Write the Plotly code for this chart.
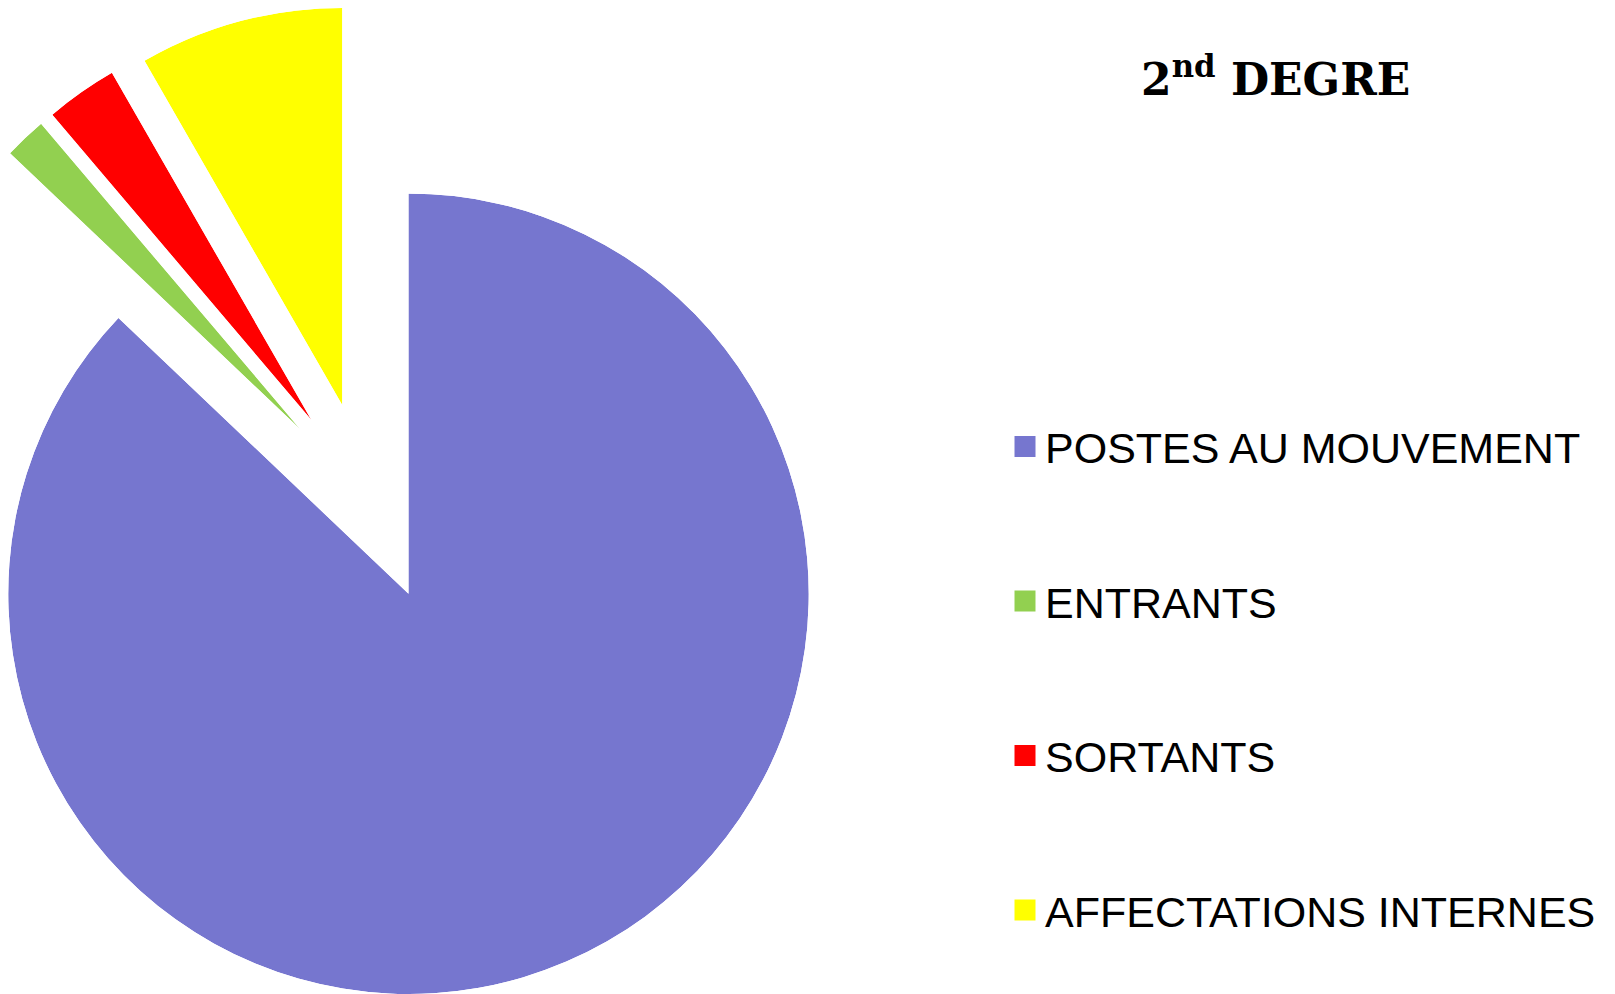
import math
import plotly.graph_objects as go

# ---------------- data ----------------
labels = ["POSTES AU MOUVEMENT", "ENTRANTS", "SORTANTS", "AFFECTATIONS INTERNES"]
values = [87.1, 1.7, 2.9, 8.3]
colors = ["#7676CF", "#92D050", "#FF0000", "#FFFF00"]
title_text = "<b>2<sup>nd</sup> DEGRE</b>"

# ---------------- layout constants ----------------
OFF = 8                          # page body margin (px)
W, H = 1615 - OFF, 994 - OFF     # figure size so the page is exactly the window
R = 400.5                        # pie radius (px)
CX, CY = 369.0 - OFF, 502.0 - OFF  # pie centre (px, figure coords)
PULL = 0.25                      # explosion of every slice (fraction of radius)
LEG_X = 997                      # legend left (px, figure coords)
LEG_Y = [438.5, 593, 747.5, 902]   # legend item centres (px, figure coords)
LEG_FONT = 43

fig = go.Figure()
total = float(sum(values))
start = 0.0
for i, (lab, val, col) in enumerate(zip(labels, values, colors)):
    span = 360.0 * val / total
    a0, a1 = start, start + span
    start = a1
    mid = (a0 + a1) / 2.0
    # apex of exploded slice (px)
    px = CX + PULL * R * math.sin(math.radians(mid))
    py = CY - PULL * R * math.cos(math.radians(mid))
    # sector in math degrees (ccw from +x)
    s0 = (90.0 - a1) % 360.0
    s1 = s0 + span
    xs = [0.0, math.cos(math.radians(s0)), math.cos(math.radians(s1))]
    ys = [0.0, math.sin(math.radians(s0)), math.sin(math.radians(s1))]
    for t in range(0, 811, 90):
        if s0 <= t <= s1:
            xs.append(round(math.cos(math.radians(t))))
            ys.append(round(math.sin(math.radians(t))))
    bx0, bx1, by0, by1 = min(xs), max(xs), min(ys), max(ys)
    dx = [max(0.0, (px + R * bx0) / W), min(1.0, (px + R * bx1) / W)]
    dy = [max(0.0, 1 - (py - R * by0) / H), min(1.0, 1 - (py - R * by1) / H)]
    name = "polar" if i == 0 else f"polar{i + 1}"
    fig.add_trace(go.Barpolar(
        r=[1], theta=[mid], width=[span], base=[0],
        marker=dict(color=col, line=dict(width=0)),
        name=lab, subplot=name, showlegend=False,
        hovertemplate=f"{lab}: {val}<extra></extra>",
    ))
    fig.update_layout({name: dict(
        domain=dict(x=dx, y=dy),
        sector=[s0, s1],
        hole=0,
        bgcolor="rgba(0,0,0,0)",
        radialaxis=dict(range=[0, 1], visible=False),
        angularaxis=dict(rotation=90, direction="clockwise", visible=False),
    )})

# legend entries (one legend per item to reproduce spacing)
for i, (lab, col) in enumerate(zip(labels, colors)):
    lname = "legend" if i == 0 else f"legend{i + 1}"
    fig.add_trace(go.Scatterpolar(
        r=[None], theta=[None], mode="markers", name=lab, subplot="polar",
        marker=dict(symbol="square", size=16, color=col, line=dict(color=col, width=5)),
        legend=lname, showlegend=True, hoverinfo="skip",
    ))
    fig.update_layout({lname: dict(
        x=LEG_X / W, y=1 - LEG_Y[i] / H, xanchor="left", yanchor="middle",
        font=dict(family="Liberation Sans, Arial, sans-serif", size=LEG_FONT, color="black"),
        bgcolor="rgba(0,0,0,0)", borderwidth=0, itemclick=False, itemdoubleclick=False,
    )})

fig.add_annotation(
    text=title_text, x=1267 / W, y=1 - 68 / H, xref="paper", yref="paper",
    xanchor="center", yanchor="middle", showarrow=False,
    font=dict(family="DejaVu Serif, serif", size=44, color="black"),
)

fig.update_layout(
    template="none",
    width=W, height=H, autosize=False,
    margin=dict(l=0, r=0, t=0, b=0),
    paper_bgcolor="white", plot_bgcolor="white",
)

fig.write_html("out.html")
